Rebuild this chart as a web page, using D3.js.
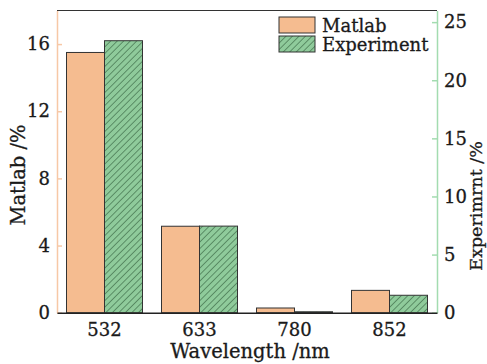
<!DOCTYPE html>
<html>
<head>
<meta charset="utf-8">
<script src="https://cdn.jsdelivr.net/npm/d3@7"></script>
<style>
  html, body { margin: 0; padding: 0; background: #fff; }
  svg text { font-family: "DejaVu Serif", "Liberation Serif", serif; fill: #1a1a1a; stroke: #1a1a1a; stroke-width: 0.3px; }
</style>
</head>
<body>
<svg id="chart" width="487" height="364"></svg>
<script>
// Wavelength groups and the two series (Matlab on the left axis, experiment on the right)
const categories = ["532", "633", "780", "852"];
const matlabValues = [15.5, 5.15, 0.28, 1.33];
const experimentValues = [23.4, 7.45, 0.08, 1.5];
const leftTicks = [0, 4, 8, 12, 16];
const rightTicks = [0, 5, 10, 15, 20, 25];
const seriesNames = ["Matlab", "Experiment"];

const W = 487, H = 364;
const margin = { top: 10.5, right: 50, bottom: 51.3, left: 57 };
const x0 = margin.left, x1 = W - margin.right;
const y0 = H - margin.bottom, y1 = margin.top;
const tickFont = 18, titleFont = 19.5;

const svg = d3.select("#chart");

const defs = svg.append("defs");
const pat = defs.append("pattern")
  .attr("id", "hatch")
  .attr("patternUnits", "userSpaceOnUse")
  .attr("width", 4.6).attr("height", 4.6)
  .attr("patternTransform", "rotate(45)");
pat.append("rect").attr("width", 4.6).attr("height", 4.6).attr("fill", "#8fcb9b");
pat.append("line").attr("x1", 0).attr("y1", 0).attr("x2", 0).attr("y2", 4.6)
  .attr("stroke", "#2f5a3a").attr("stroke-width", 1.1);

const xBand = d3.scaleBand().domain(categories).range([x0, x1]).paddingInner(0.2).paddingOuter(0.1);
const xSub = d3.scaleBand().domain(seriesNames).range([0, xBand.bandwidth()]);
const yLeft = d3.scaleLinear().domain([0, 18]).range([y0, y1]);
const yRight = d3.scaleLinear().domain([0, 26]).range([y0, y1]);

const fills = { Matlab: "#f5bc90", Experiment: "url(#hatch)" };

// Bars
const groups = svg.append("g").selectAll("g").data(categories).join("g")
  .attr("transform", d => `translate(${xBand(d)},0)`);

groups.append("rect")
  .attr("x", xSub("Matlab"))
  .attr("y", (d, i) => yLeft(matlabValues[i]))
  .attr("width", xSub.bandwidth())
  .attr("height", (d, i) => y0 - yLeft(matlabValues[i]))
  .attr("fill", fills.Matlab).attr("stroke", "#333").attr("stroke-width", 1);

groups.append("rect")
  .attr("x", xSub("Experiment"))
  .attr("y", (d, i) => yRight(experimentValues[i]))
  .attr("width", xSub.bandwidth())
  .attr("height", (d, i) => y0 - yRight(experimentValues[i]))
  .attr("fill", fills.Experiment).attr("stroke", "#333").attr("stroke-width", 1);

// Top frame line
svg.append("line").attr("x1", x0).attr("x2", x1).attr("y1", y1).attr("y2", y1)
  .attr("stroke", "#333").attr("stroke-width", 1.2);

function styleTickText(g) {
  g.selectAll(".tick text").attr("font-size", tickFont)
    .attr("font-family", "DejaVu Serif").attr("fill", "#1a1a1a");
}

// Left axis (Matlab)
const leftAxis = svg.append("g").attr("transform", `translate(${x0},0)`)
  .call(d3.axisLeft(yLeft).tickValues(leftTicks).tickSize(-5).tickPadding(7).tickSizeOuter(0));
leftAxis.select(".domain").attr("stroke", "#f7c8a6").attr("stroke-width", 1.5);
leftAxis.selectAll(".tick line").attr("stroke", "#f7c8a6").attr("stroke-width", 1.5);
styleTickText(leftAxis);

// Right axis (experiment)
const rightAxis = svg.append("g").attr("transform", `translate(${x1},0)`)
  .call(d3.axisRight(yRight).tickValues(rightTicks).tickSize(-5).tickPadding(7).tickSizeOuter(0));
rightAxis.select(".domain").attr("stroke", "#a3dcb0").attr("stroke-width", 1.5);
rightAxis.selectAll(".tick line").attr("stroke", "#a3dcb0").attr("stroke-width", 1.5);
styleTickText(rightAxis);

// Bottom axis
const bottomAxis = svg.append("g").attr("transform", `translate(0,${y0})`)
  .call(d3.axisBottom(xBand).tickSize(0).tickPadding(11).tickSizeOuter(0));
bottomAxis.select(".domain").attr("stroke", "#222").attr("stroke-width", 1.5);
styleTickText(bottomAxis);

// Axis titles
svg.append("text").attr("x", (x0 + x1) / 2 + 3).attr("y", 358)
  .attr("text-anchor", "middle").attr("font-size", titleFont).text("Wavelength /nm");
svg.append("text").attr("transform", `translate(25,175) rotate(-90)`)
  .attr("text-anchor", "middle").attr("font-size", titleFont).text("Matlab /%");
svg.append("text").attr("transform", `translate(482,206) rotate(-90)`)
  .attr("text-anchor", "middle").attr("font-size", 17.5).text("Experimrnt /%");

// Legend
const legend = svg.append("g").attr("transform", "translate(279,17)");
seriesNames.forEach((name, i) => {
  const row = legend.append("g").attr("transform", `translate(0,${i * 19})`);
  row.append("rect").attr("width", 36).attr("height", 16)
    .attr("fill", fills[name]).attr("stroke", "#333").attr("stroke-width", 1);
  row.append("text").attr("x", 43).attr("y", 15).attr("font-size", tickFont).text(name);
});
</script>
</body>
</html>
